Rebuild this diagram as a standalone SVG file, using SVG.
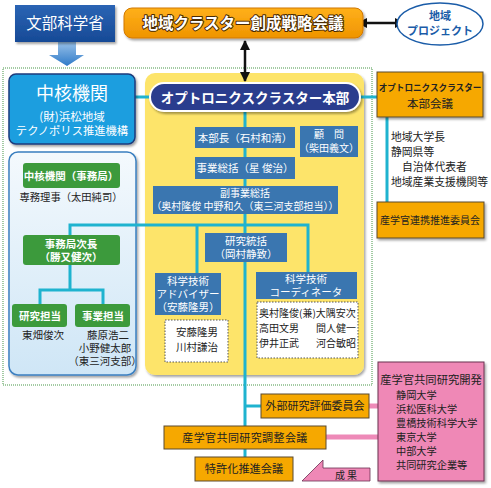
<svg xmlns="http://www.w3.org/2000/svg" width="491" height="488" viewBox="0 0 491 488">
<defs>
<style>
text{font-family:"Noto Sans CJK JP","Noto Sans CJK SC",sans-serif;}
.w{fill:#fff;}
.b{font-weight:bold;}
.c{text-anchor:middle;}
.k{fill:#222;}
.cy{stroke:#1fb3cf;stroke-width:3;fill:none;}
.pk{stroke:#ee8ab8;stroke-width:5;fill:none;}
.sb{fill:#3a76b0;}
.gr{fill:#3c9a3c;}
.or{fill:#f6a800;stroke:#5a4a30;stroke-width:1;}
.dot{fill:#fff;stroke:#555;stroke-width:1;stroke-dasharray:1.5,1.5;}
</style>
<linearGradient id="mext" x1="0" y1="0" x2="0" y2="1"><stop offset="0" stop-color="#2a64b4"/><stop offset="1" stop-color="#174a96"/></linearGradient>
<linearGradient id="arr" x1="0" y1="0" x2="0" y2="1"><stop offset="0" stop-color="#9cc4ea"/><stop offset="1" stop-color="#2f7ac8"/></linearGradient>
<linearGradient id="lb" x1="0" y1="0" x2="0" y2="1"><stop offset="0" stop-color="#f4f9fd"/><stop offset="1" stop-color="#cfe6f6"/></linearGradient>
<linearGradient id="ob" x1="0" y1="0" x2="0" y2="1"><stop offset="0" stop-color="#ffb01a"/><stop offset="1" stop-color="#ef9400"/></linearGradient>
<filter id="sh" x="-10%" y="-10%" width="130%" height="140%"><feDropShadow dx="1.5" dy="2" stdDeviation="1.2" flood-color="#000" flood-opacity="0.35"/></filter>
<marker id="ah" viewBox="0 0 10 10" refX="9" refY="5" markerWidth="4" markerHeight="4" orient="auto-start-reverse"><path d="M0,0 L10,5 L0,10 z" fill="#111"/></marker>
</defs>

<!-- dotted green frame -->
<rect x="3" y="68" width="369" height="317" fill="none" stroke="#a3cba3" stroke-width="2" stroke-dasharray="1,1"/>

<!-- big containers -->
<g id="yellow-area"><rect x="145" y="73" width="219" height="302" rx="10" fill="#fde46a" filter="url(#sh)"/></g>
<g id="left-area"><rect x="9" y="152" width="127" height="223" rx="9" fill="url(#lb)" stroke="#3a7fc0" stroke-width="1.5" filter="url(#sh)"/></g>

<!-- connectors -->
<g id="connectors">
<line x1="245" y1="41" x2="245" y2="81" stroke="#111" stroke-width="2.5" marker-start="url(#ah)" marker-end="url(#ah)"/>
<line x1="358" y1="23" x2="404" y2="23" stroke="#111" stroke-width="2.5" marker-start="url(#ah)" marker-end="url(#ah)"/>
<line class="cy" x1="135" y1="97" x2="152" y2="97"/>
<line class="cy" x1="359" y1="97" x2="378" y2="97"/>
<line class="cy" x1="387" y1="117" x2="387" y2="202"/>
<line class="cy" x1="245" y1="110" x2="245" y2="458"/>
<polyline class="cy" points="70,236 70,225 308,225 308,273"/>
<line class="cy" x1="197" y1="225" x2="197" y2="273"/>
<polyline class="cy" points="70,264 70,290"/>
<polyline class="cy" points="40,305 40,290 103,290 103,305"/>
<line class="cy" x1="245" y1="406" x2="261" y2="406"/>
<line class="pk" x1="369" y1="406" x2="380" y2="406"/>
<line class="pk" x1="326" y1="437" x2="380" y2="437"/>
<path d="M58,41 H76 V55 H84 L67,66 L49,55 H58 Z" fill="url(#arr)"/>
</g>

<g id="mext"><rect x="15" y="5" width="100" height="37" fill="url(#mext)" filter="url(#sh)"/><text class="w c" x="65" y="29" font-size="15.5">文部科学省</text></g>

<g id="strategy"><rect x="124" y="8" width="239" height="30" rx="8" fill="url(#ob)" stroke="#d07800" filter="url(#sh)"/><text class="w b c" x="243" y="29" font-size="15.5" stroke="#4a2a00" stroke-width="2" paint-order="stroke" stroke-linejoin="round">地域クラスター創成戦略会議</text></g>

<g id="project"><ellipse cx="440" cy="24" rx="43" ry="21" fill="#fff" stroke="#1a5ca8" stroke-width="1.5"/><text class="b c" x="440" y="20" font-size="11" fill="#1a5ca8">地域</text><text class="b c" x="440" y="35" font-size="11" fill="#1a5ca8">プロジェクト</text></g>

<g id="chukaku"><rect x="9" y="74" width="126" height="70" rx="7" fill="#1a9edf" stroke="#1c3b7c" stroke-width="1.5" filter="url(#sh)"/><text class="w c" x="72" y="100" font-size="18">中核機関</text><text class="w c" x="72" y="121" font-size="11.5">(財)浜松地域</text><text class="w c" x="72" y="135" font-size="11.3">テクノポリス推進機構</text></g>

<g id="honbu"><rect x="150" y="83" width="210" height="28" rx="14" fill="#2b3d8e" stroke="#fff" stroke-width="2" filter="url(#sh)"/><text class="w b c" x="255" y="102.5" font-size="13.5">オプトロニクスクラスター本部</text></g>

<g id="honbu-kaigi"><rect x="377" y="72" width="106" height="45" class="or" filter="url(#sh)"/><text class="b c k" x="430" y="91" font-size="8.6">オプトロニクスクラスター</text><text class="c k" x="430" y="108" font-size="11.5">本部会議</text></g>

<g id="members"><text class="k" font-size="10.8"><tspan x="391" y="141">地域大学長</tspan><tspan x="391" y="156">静岡県等</tspan><tspan x="402" y="171">自治体代表者</tspan><tspan x="391" y="186">地域産業支援機関等</tspan></text></g>

<g id="renkei"><rect x="377" y="202" width="107" height="36" class="or" filter="url(#sh)"/><text class="c k" x="430" y="224" font-size="10">産学官連携推進委員会</text></g>

<g id="honbucho"><rect x="195" y="127" width="100" height="21" class="sb"/><text class="w c" x="245" y="142" font-size="10.5">本部長（石村和清）</text></g>
<g id="komon"><rect x="300" y="126" width="58" height="31" class="sb"/><text class="w c" x="329" y="138" font-size="10">顧　問</text><text class="w c" x="329" y="152" font-size="10">（柴田義文）</text></g>
<g id="jigyo-sokatsu"><rect x="195" y="157" width="100" height="22" class="sb"/><text class="w c" x="245" y="172" font-size="10.5">事業総括（星 俊治）</text></g>
<g id="fuku"><rect x="153" y="186" width="185" height="28" class="sb"/><text class="w c" x="245" y="197" font-size="10">副事業総括</text><text class="w c" x="245" y="210" font-size="10">（奥村隆俊 中野和久（東三河支部担当））</text></g>
<g id="kenkyu-tokatsu"><rect x="205" y="233" width="82" height="29" class="sb"/><text class="w c" x="246" y="245" font-size="10.5">研究統括</text><text class="w c" x="246" y="258" font-size="10.5">（岡村静致）</text></g>
<g id="advisor"><rect x="155" y="273" width="66" height="42" class="sb"/><text class="w c" x="188" y="285" font-size="10.5">科学技術</text><text class="w c" x="188" y="298" font-size="10.5">アドバイザー</text><text class="w c" x="188" y="311" font-size="10.5">（安藤隆男）</text></g>
<g id="coordinator"><rect x="256" y="272" width="101" height="27" class="sb"/><text class="w c" x="306" y="283" font-size="10.5">科学技術</text><text class="w c" x="306" y="296" font-size="10.5">コーディネータ</text></g>
<g id="advisor-members"><rect x="165" y="320" width="63" height="42" class="dot"/><text class="c k" x="197" y="336" font-size="10.5">安藤隆男</text><text class="c k" x="197" y="351" font-size="10.5">川村謙治</text></g>
<g id="coord-members"><rect x="257" y="302" width="101" height="56" class="dot"/><text class="k" font-size="10"><tspan x="259" y="317">奥村隆俊(兼)大隅安次</tspan><tspan x="259" y="332">高田文男</tspan><tspan x="259" y="347">伊井正武</tspan></text><text class="k" font-size="10" text-anchor="end"><tspan x="356" y="332">間人健一</tspan><tspan x="356" y="347">河合敏昭</tspan></text></g>

<g id="jimukyoku"><rect x="23" y="163" width="97" height="25" rx="3" class="gr"/><text class="w b c" x="71" y="180" font-size="10.5">中核機関（事務局）</text><text class="c k" x="71" y="201" font-size="10.3">専務理事（太田純司）</text></g>
<g id="jicho"><rect x="23" y="235" width="97" height="30" rx="3" class="gr"/><text class="w b c" x="71" y="248" font-size="10.5">事務局次長</text><text class="w b c" x="71" y="261" font-size="10.5">（勝又健次）</text></g>
<g id="kenkyu-tanto"><rect x="12" y="304" width="55" height="23" rx="3" class="gr"/><text class="w b c" x="40" y="320" font-size="10.5">研究担当</text><text class="c k" x="43" y="339" font-size="10.5">東畑俊次</text></g>
<g id="jigyo-tanto"><rect x="75" y="304" width="55" height="23" rx="3" class="gr"/><text class="w b c" x="103" y="320" font-size="10.5">事業担当</text><text class="c k" x="108" y="339" font-size="10.5">藤原浩二</text><text class="c k" x="105" y="352" font-size="10.5">小野健太郎</text><text class="c k" x="105" y="365" font-size="10.5">（東三河支部）</text></g>

<g id="sangaku-kaihatsu"><rect x="378" y="362" width="106" height="119" fill="#ef88b6" stroke="#6a3050" stroke-width="1" filter="url(#sh)"/><text class="c k" x="431" y="384" font-size="11.3">産学官共同研究開発</text><text class="k" font-size="10.2"><tspan x="396" y="399">静岡大学</tspan><tspan x="396" y="413">浜松医科大学</tspan><tspan x="396" y="427">豊橋技術科学大学</tspan><tspan x="396" y="441">東京大学</tspan><tspan x="396" y="455">中部大学</tspan><tspan x="396" y="469">共同研究企業等</tspan></text></g>

<g id="gaibu"><rect x="261" y="394" width="108" height="24" class="or"/><text class="c k" x="315" y="410" font-size="11">外部研究評価委員会</text></g>
<g id="chosei"><rect x="164" y="426" width="162" height="23" class="or"/><text class="c k" x="245" y="442" font-size="11" letter-spacing="0.4">産学官共同研究調整会議</text></g>
<g id="tokkyo"><rect x="195" y="457" width="98" height="24" class="or"/><text class="c k" x="244" y="473" font-size="11.2">特許化推進会議</text></g>
<g id="seika"><path d="M302,481 L323,460 L323,468 L370,468 L370,481 Z" fill="#ef88b6" stroke="#6a3050" stroke-width="0.8"/><text class="c k" x="346" y="479" font-size="10">成 果</text></g>
</svg>
